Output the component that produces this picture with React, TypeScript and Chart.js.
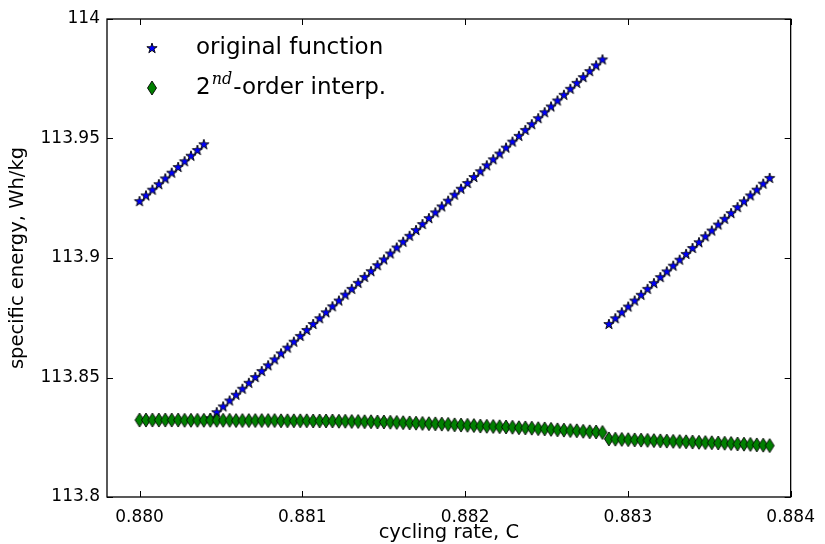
import React, { useEffect, useRef } from "react";
import { Chart, registerables } from "chart.js";

Chart.register(...registerables);

// ---------- data ----------
const xValues = [
  0.88, 0.8800395, 0.880079, 0.8801185, 0.880158, 0.8801975, 0.880237, 0.8802765, 0.880316, 0.8803555,
  0.880395, 0.8804345, 0.880474, 0.8805135, 0.880553, 0.8805925, 0.880632, 0.8806715, 0.880711, 0.8807505,
  0.88079, 0.8808295, 0.880869, 0.8809085, 0.880948, 0.8809875, 0.881027, 0.8810665, 0.881106, 0.8811455,
  0.881185, 0.8812245, 0.881264, 0.8813035, 0.881343, 0.8813825, 0.881422, 0.8814615, 0.881501, 0.8815405,
  0.88158, 0.8816195, 0.881659, 0.8816985, 0.881738, 0.8817775, 0.881817, 0.8818565, 0.881896, 0.8819355,
  0.881975, 0.8820145, 0.882054, 0.8820935, 0.882133, 0.8821725, 0.882212, 0.8822515, 0.882291, 0.8823305,
  0.88237, 0.8824095, 0.882449, 0.8824885, 0.882528, 0.8825675, 0.882607, 0.8826465, 0.882686, 0.8827255,
  0.882765, 0.8828045, 0.882844, 0.8828835, 0.882923, 0.8829625, 0.883002, 0.8830415, 0.883081, 0.8831205,
  0.88316, 0.8831995, 0.883239, 0.8832785, 0.883318, 0.8833575, 0.883397, 0.8834365, 0.883476, 0.8835155,
  0.883555, 0.8835945, 0.883634, 0.8836735, 0.883713, 0.8837525, 0.883792, 0.8838315, 0.883871,
];

const originalY = [
  113.9238, 113.9262, 113.9286, 113.9309, 113.9333, 113.9357, 113.9381, 113.9405, 113.9428, 113.9452,
  113.9476,
  113.833, 113.8355, 113.8379, 113.8404, 113.8428, 113.8453, 113.8478, 113.8502, 113.8527, 113.8551,
  113.8576, 113.8601, 113.8625, 113.865, 113.8674, 113.8699, 113.8724, 113.8748, 113.8773, 113.8798,
  113.8822, 113.8847, 113.8871, 113.8896, 113.8921, 113.8945, 113.897, 113.8994, 113.9019, 113.9044,
  113.9068, 113.9093, 113.9117, 113.9142, 113.9167, 113.9191, 113.9216, 113.924, 113.9265, 113.929,
  113.9314, 113.9339, 113.9363, 113.9388, 113.9413, 113.9437, 113.9462, 113.9487, 113.9511, 113.9536,
  113.956, 113.9585, 113.961, 113.9634, 113.9659, 113.9683, 113.9708, 113.9733, 113.9757, 113.9782,
  113.9806, 113.9831,
  113.8724, 113.8748, 113.8773, 113.8797, 113.8822, 113.8846, 113.8871, 113.8895, 113.892, 113.8944,
  113.8968, 113.8993, 113.9017, 113.9042, 113.9066, 113.9091, 113.9115, 113.914, 113.9164, 113.9188,
  113.9213, 113.9237, 113.9262, 113.9286, 113.9311, 113.9335,
];

const interpY = [
  113.8322, 113.8322, 113.8322, 113.8322, 113.8322, 113.8322, 113.8322, 113.8321, 113.8321, 113.8321,
  113.8321,
  113.8321, 113.8321, 113.8321, 113.8321, 113.832, 113.832, 113.832, 113.832, 113.832, 113.832,
  113.832, 113.8319, 113.8319, 113.8319, 113.8319, 113.8319, 113.8318, 113.8318, 113.8318, 113.8318,
  113.8317, 113.8317, 113.8316, 113.8316, 113.8315, 113.8315, 113.8314, 113.8314, 113.8313, 113.8312,
  113.8311, 113.831, 113.8309, 113.8308, 113.8307, 113.8306, 113.8305, 113.8304, 113.8302, 113.8301,
  113.83, 113.8299, 113.8297, 113.8296, 113.8295, 113.8294, 113.8293, 113.8292, 113.829, 113.8289,
  113.8288, 113.8286, 113.8285, 113.8283, 113.8281, 113.828, 113.8278, 113.8277, 113.8275, 113.8273,
  113.8272, 113.827,
  113.8243, 113.8242, 113.8241, 113.824, 113.8239, 113.8238, 113.8237, 113.8236, 113.8235, 113.8234,
  113.8233, 113.8232, 113.8231, 113.823, 113.8229, 113.8228, 113.8227, 113.8226, 113.8225, 113.8224,
  113.8222, 113.8221, 113.822, 113.8218, 113.8217, 113.8215,
];

const xTicks = [0.88, 0.881, 0.882, 0.883, 0.884];
const xTickLabels = ["0.880", "0.881", "0.882", "0.883", "0.884"];
const yTicks = [113.8, 113.85, 113.9, 113.95, 114];
const yTickLabels = ["113.8", "113.85", "113.9", "113.95", "114"];
const xRange = [0.8798, 0.884];
const yRange = [113.8, 114];
const seriesNames = ["original function", "-order interp."];
const xTitle = "cycling rate, C";
const yTitle = "specific energy, Wh/kg";

// ---------- marker images ----------
function makeStar(): HTMLCanvasElement {
  const c = document.createElement("canvas");
  c.width = 14;
  c.height = 14;
  const ctx = c.getContext("2d")!;
  const R = 5.4;
  const r = R * 0.382;
  ctx.beginPath();
  for (let i = 0; i < 10; i++) {
    const a = -Math.PI / 2 + (i * Math.PI) / 5;
    const rad = i % 2 === 0 ? R : r;
    const px = 7 + rad * Math.cos(a);
    const py = 7.4 + rad * Math.sin(a);
    if (i === 0) ctx.moveTo(px, py);
    else ctx.lineTo(px, py);
  }
  ctx.closePath();
  ctx.fillStyle = "#0000ff";
  ctx.fill();
  ctx.lineWidth = 0.9;
  ctx.strokeStyle = "#000000";
  ctx.stroke();
  return c;
}

function makeDiamond(): HTMLCanvasElement {
  const c = document.createElement("canvas");
  c.width = 12;
  c.height = 18;
  const ctx = c.getContext("2d")!;
  const hw = 4.5;
  const hh = 7.0;
  ctx.beginPath();
  ctx.moveTo(6, 9 - hh);
  ctx.lineTo(6 + hw, 9);
  ctx.lineTo(6, 9 + hh);
  ctx.lineTo(6 - hw, 9);
  ctx.closePath();
  ctx.fillStyle = "#008000";
  ctx.fill();
  ctx.lineWidth = 0.9;
  ctx.strokeStyle = "#000000";
  ctx.stroke();
  return c;
}

const FONT = "'DejaVu Sans', 'Liberation Sans', sans-serif";

export default function App() {
  const ref = useRef<HTMLCanvasElement | null>(null);

  useEffect(() => {
    document.body.style.margin = "0";
    const canvas = ref.current;
    if (!canvas) return;
    const star = makeStar();
    const diamond = makeDiamond();

    const framePlugin = {
      id: "frameTicks",
      afterDraw(chart: any) {
        const { ctx, chartArea } = chart;
        const xs = chart.scales.x;
        const ys = chart.scales.y;
        const { left, right, top, bottom } = chartArea;
        ctx.save();
        ctx.strokeStyle = "#000";
        ctx.lineWidth = 1.3;
        ctx.strokeRect(left, top, right - left, bottom - top);
        ctx.lineWidth = 1;
        const L = 6;
        ctx.beginPath();
        xTicks.forEach((v) => {
          const px = Math.round(xs.getPixelForValue(v)) + 0.5;
          ctx.moveTo(px, bottom);
          ctx.lineTo(px, bottom - L);
          ctx.moveTo(px, top);
          ctx.lineTo(px, top + L);
        });
        yTicks.forEach((v) => {
          const py = Math.round(ys.getPixelForValue(v)) + 0.5;
          ctx.moveTo(left, py);
          ctx.lineTo(left + L, py);
          ctx.moveTo(right, py);
          ctx.lineTo(right - L, py);
        });
        ctx.stroke();

        // legend
        const lx = 152;
        const tx = 196;
        const rows = [48, 88];
        ctx.drawImage(star, lx - 7, rows[0] - 7);
        ctx.drawImage(diamond, lx - 6, rows[1] - 9);
        ctx.fillStyle = "#000";
        ctx.textBaseline = "middle";
        ctx.textAlign = "left";
        ctx.font = `23px ${FONT}`;
        ctx.fillText(seriesNames[0], tx, rows[0]);
        ctx.fillText("2", tx, rows[1]);
        const w2 = ctx.measureText("2").width;
        ctx.font = `italic 16px 'DejaVu Serif', 'Liberation Serif', serif`;
        ctx.fillText("nd", tx + w2 + 1, rows[1] - 8);
        const wnd = ctx.measureText("nd").width;
        ctx.font = `23px ${FONT}`;
        ctx.fillText(seriesNames[1], tx + w2 + wnd + 2, rows[1]);
        ctx.restore();
      },
    };

    const chart = new Chart(canvas, {
      type: "scatter",
      data: {
        datasets: [
          {
            label: "original function",
            data: xValues.map((x, i) => ({ x, y: originalY[i] })),
            pointStyle: star as any,
            showLine: false,
            order: 2,
          },
          {
            label: "2nd-order interp.",
            data: xValues.map((x, i) => ({ x, y: interpY[i] })),
            pointStyle: diamond as any,
            showLine: false,
            order: 1,
          },
        ],
      },
      options: {
        animation: false,
        responsive: false,
        layout: { padding: { top: 19, right: 31, left: 0, bottom: 0 } },
        plugins: { legend: { display: false }, tooltip: { enabled: false } },
        scales: {
          x: {
            type: "linear",
            min: xRange[0],
            max: xRange[1],
            afterBuildTicks: (s: any) => {
              s.ticks = xTicks.map((v) => ({ value: v }));
            },
            afterFit: (s: any) => {
              s.height = 47;
            },
            ticks: {
              callback: (_v: any, i: number) => xTickLabels[i],
              font: { family: FONT, size: 17 },
              color: "#000",
              padding: 10,
              maxRotation: 0,
              autoSkip: false,
            },
            grid: { display: false, drawTicks: false },
            border: { display: false },
            title: {
              display: true,
              text: xTitle,
              color: "#000",
              font: { family: FONT, size: 19.5 },
              padding: { top: 0, bottom: -1 },
            },
          },
          y: {
            type: "linear",
            min: yRange[0],
            max: yRange[1],
            afterBuildTicks: (s: any) => {
              s.ticks = yTicks.map((v) => ({ value: v }));
            },
            afterFit: (s: any) => {
              s.width = 107;
            },
            ticks: {
              callback: (_v: any, i: number) => yTickLabels[i],
              font: { family: FONT, size: 17 },
              color: "#000",
              padding: 7,
              autoSkip: false,
            },
            grid: { display: false, drawTicks: false },
            border: { display: false },
            title: {
              display: true,
              text: yTitle,
              color: "#000",
              font: { family: FONT, size: 19.5 },
              padding: { top: 6, bottom: 0 },
            },
          },
        },
      },
      plugins: [framePlugin],
    });
    return () => chart.destroy();
  }, []);

  return (
    <div style={{ width: 825, height: 544, background: "#fff" }}>
      <canvas ref={ref} width={825} height={544} />
    </div>
  );
}
